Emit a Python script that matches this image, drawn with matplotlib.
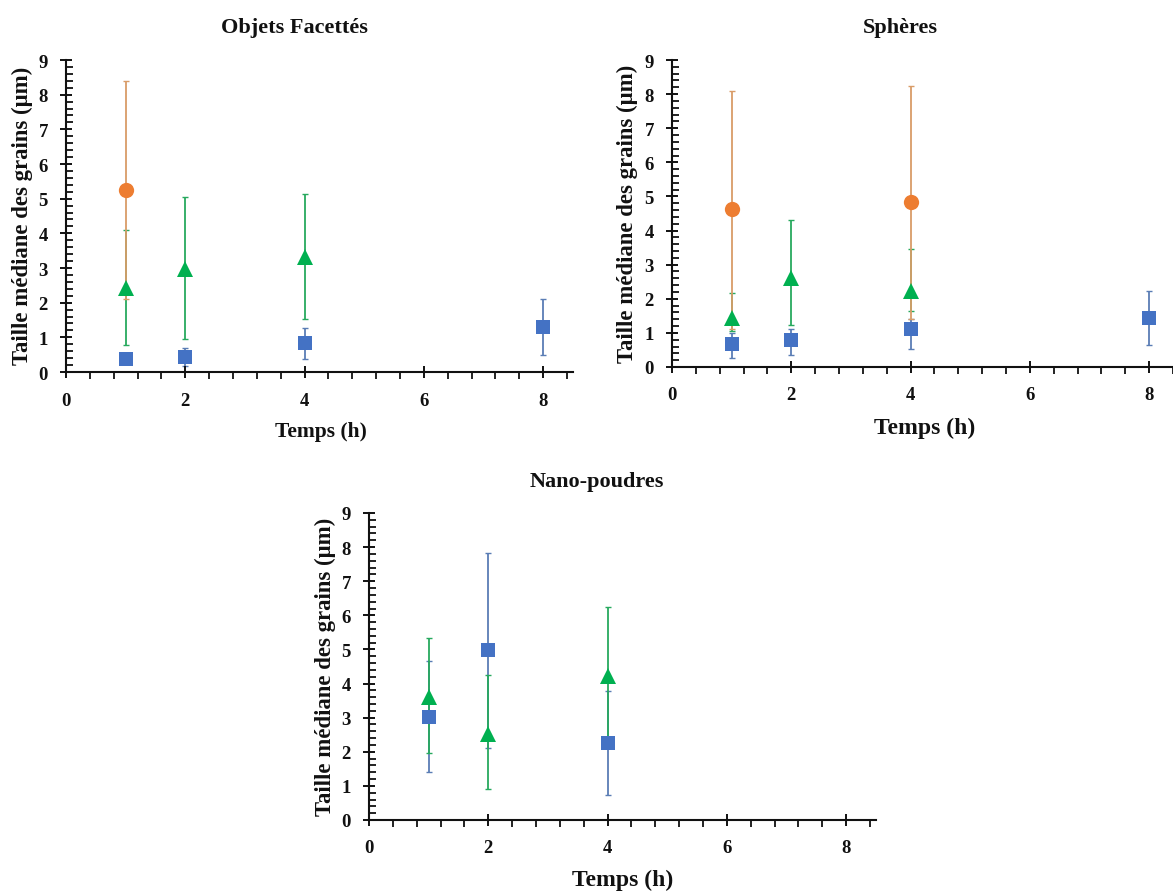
import matplotlib
matplotlib.use("Agg")
import matplotlib.pyplot as plt
from matplotlib.ticker import MultipleLocator

plt.rcParams['font.family'] = ['Liberation Serif', 'DejaVu Serif']
plt.rcParams['font.weight'] = 'bold'

# ---------------- data ----------------
titres = ["Objets Facettés", "Sphères", "Nano-poudres"]
label_x = "Temps (h)"
label_y = "Taille médiane des grains (µm)"
x_ticks = [0, 2, 4, 6, 8]
y_ticks = [0, 1, 2, 3, 4, 5, 6, 7, 8, 9]

# Objets Facettés
of_carre_t = [1, 2, 4, 8]
of_carre_med = [0.37, 0.44, 0.83, 1.30]
of_carre_bas = [0.30, 0.18, 0.37, 0.48]
of_carre_haut = [0.45, 0.68, 1.26, 2.10]
of_tri_t = [1, 2, 4]
of_tri_med = [2.42, 2.97, 3.32]
of_tri_bas = [0.78, 0.94, 1.54]
of_tri_haut = [4.10, 5.04, 5.13]
of_rond_t = [1]
of_rond_med = [5.25]
of_rond_bas = [2.10]
of_rond_haut = [8.39]

# Sphères
sp_carre_t = [1, 2, 4, 8]
sp_carre_med = [0.67, 0.79, 1.10, 1.45]
sp_carre_bas = [0.25, 0.34, 0.54, 0.64]
sp_carre_haut = [1.00, 1.10, 1.40, 2.23]
sp_tri_t = [1, 2, 4]
sp_tri_med = [1.45, 2.62, 2.23]
sp_tri_bas = [1.05, 1.22, 1.64]
sp_tri_haut = [2.18, 4.30, 3.47]
sp_rond_t = [1, 4]
sp_rond_med = [4.63, 4.84]
sp_rond_bas = [1.10, 1.40]
sp_rond_haut = [8.10, 8.25]

# Nano-poudres
np_carre_t = [1, 2, 4]
np_carre_med = [3.01, 4.97, 2.26]
np_carre_bas = [1.40, 2.11, 0.73]
np_carre_haut = [4.65, 7.83, 3.79]
np_tri_t = [1, 2, 4]
np_tri_med = [3.60, 2.52, 4.22]
np_tri_bas = [1.96, 0.91, 2.30]
np_tri_haut = [5.34, 4.26, 6.24]

# ---------------- styles ----------------
BLEU, BLEU_E = '#4472C4', '#5A7DB5'
VERT, VERT_E = '#00B050', '#27A95E'
ORANGE, ORANGE_E = '#ED7D31', '#D99C68'

W, H = 1173, 895
fig = plt.figure(figsize=(W / 100, H / 100), dpi=100)


def px_axes(left, top, right, bottom):
    return [left / W, 1 - bottom / H, (right - left) / W, (bottom - top) / H]


def serie(ax, t, med, bas, haut, col, ecol, marker, ms, z):
    yerr = [[m - b for m, b in zip(med, bas)], [h - m for m, h in zip(med, haut)]]
    ax.errorbar(t, med, yerr=yerr, fmt='none', ecolor=ecol, elinewidth=1.3,
                capsize=2.2, capthick=1.0, zorder=z)
    ax.plot(t, med, linestyle='none', marker=marker, color=col, markersize=ms,
            markeredgewidth=0, zorder=10 + z, clip_on=False)


def style_axes(ax, xpad):
    ax.set_xlim(0, 8.5)
    ax.set_ylim(0, 9)
    ax.spines['top'].set_visible(False)
    ax.spines['right'].set_visible(False)
    for s in ('left', 'bottom'):
        ax.spines[s].set_linewidth(1.5)
        ax.spines[s].set_color('#111111')
    ax.set_xticks(x_ticks)
    ax.set_yticks(y_ticks)
    ax.xaxis.set_minor_locator(MultipleLocator(0.4))
    ax.yaxis.set_minor_locator(MultipleLocator(0.2))
    ax.tick_params(axis='x', which='major', direction='inout', length=9, width=1.4,
                   labelsize=13.5, pad=xpad, colors='#111111')
    ax.tick_params(axis='x', which='minor', direction='out', length=5, width=1.3,
                   colors='#111111')
    ax.tick_params(axis='y', which='major', direction='inout', length=9, width=1.4,
                   labelsize=13.5, pad=8.5, colors='#111111')
    ax.tick_params(axis='y', which='minor', direction='in', length=5, width=1.3,
                   colors='#111111')
    for lab in ax.get_xticklabels() + ax.get_yticklabels():
        lab.set_fontweight('bold')


# Panel 1
ax1 = fig.add_axes(px_axes(66, 61, 573, 373))
style_axes(ax1, 10)
serie(ax1, of_carre_t, of_carre_med, of_carre_bas, of_carre_haut, BLEU, BLEU_E, 's', 10, 1)
serie(ax1, of_tri_t, of_tri_med, of_tri_bas, of_tri_haut, VERT, VERT_E, '^', 11, 2)
serie(ax1, of_rond_t, of_rond_med, of_rond_bas, of_rond_haut, ORANGE, ORANGE_E, 'o', 11, 3)

# Panel 2
ax2 = fig.add_axes(px_axes(672, 61, 672 + 507, 368))
style_axes(ax2, 9)
serie(ax2, sp_carre_t, sp_carre_med, sp_carre_bas, sp_carre_haut, BLEU, BLEU_E, 's', 10, 1)
serie(ax2, sp_tri_t, sp_tri_med, sp_tri_bas, sp_tri_haut, VERT, VERT_E, '^', 11, 2)
serie(ax2, sp_rond_t, sp_rond_med, sp_rond_bas, sp_rond_haut, ORANGE, ORANGE_E, 'o', 11, 3)

# Panel 3
ax3 = fig.add_axes(px_axes(369, 514, 369 + 507, 821))
style_axes(ax3, 9)
serie(ax3, np_carre_t, np_carre_med, np_carre_bas, np_carre_haut, BLEU, BLEU_E, 's', 10, 1)
serie(ax3, np_tri_t, np_tri_med, np_tri_bas, np_tri_haut, VERT, VERT_E, '^', 11, 2)


def ftext(x, y, s, **kw):
    fig.text(x / W, 1 - y / H, s, fontweight='bold', color='#111111', **kw)


# titles
ftext(294, 28, titres[0], fontsize=16, ha='center', va='center')
ftext(900, 28, titres[1], fontsize=16, ha='center', va='center')
ftext(597, 482, titres[2], fontsize=16, ha='center', va='center')

# y labels
ftext(22, 216, label_y, fontsize=16.4, rotation=90, ha='center', va='center')
ftext(627, 214, label_y, fontsize=16.4, rotation=90, ha='center', va='center')
ftext(325, 667, label_y, fontsize=16.4, rotation=90, ha='center', va='center')

# x labels
ftext(321, 432, label_x, fontsize=15.5, ha='center', va='center')
ftext(925, 428, label_x, fontsize=17, ha='center', va='center')
ftext(623, 880, label_x, fontsize=17, ha='center', va='center')

fig.savefig('out.png', dpi=100)
